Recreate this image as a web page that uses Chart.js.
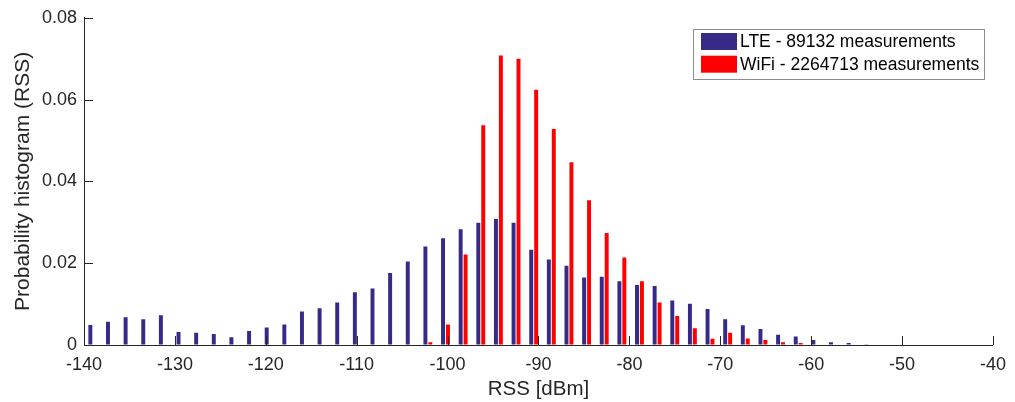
<!DOCTYPE html>
<html>
<head>
<meta charset="utf-8">
<script src="https://cdn.jsdelivr.net/npm/chart.js@4.4.1/dist/chart.umd.min.js"></script>
<style>
  html, body { margin: 0; padding: 0; background: #fff; }
  #wrap { width: 1015px; height: 402px; position: relative; }
</style>
</head>
<body>
<div id="wrap"><canvas id="rss_hist"></canvas></div>
<script>
// histogram bin centres (dBm)
var binCenters = [
  -139.03, -137.09, -135.15, -133.21, -131.27, -129.33, -127.39, -125.45, -123.51, -121.57,
  -119.63, -117.69, -115.75, -113.81, -111.87, -109.93, -107.99, -106.05, -104.11, -102.17,
  -100.23, -98.29, -96.35, -94.41, -92.47, -90.53, -88.59, -86.65, -84.71, -82.77,
  -80.83, -78.89, -76.95, -75.01, -73.07, -71.13, -69.19, -67.25, -65.31, -63.37,
  -61.43, -59.49, -57.55, -55.61, -53.67
];
var lteValues = [
  0.0049, 0.0057, 0.0068, 0.0063, 0.0073, 0.0032, 0.0030, 0.0027, 0.0019, 0.0034,
  0.0043, 0.0050, 0.0082, 0.0090, 0.0104, 0.0129, 0.0138, 0.0176, 0.0204, 0.0241,
  0.0261, 0.0283, 0.0299, 0.0308, 0.0299, 0.0233, 0.0209, 0.0194, 0.0165, 0.0167,
  0.0156, 0.0147, 0.0144, 0.0109, 0.0101, 0.0088, 0.0063, 0.0048, 0.0039, 0.0025,
  0.0021, 0.0012, 0.0007, 0.0005, 0.0002
];
var wifiValues = [
  0, 0, 0, 0, 0, 0, 0, 0, 0, 0,
  0, 0, 0, 0, 0, 0, 0, 0, 0, 0.0007,
  0.0050, 0.0221, 0.0537, 0.0708, 0.0700, 0.0624, 0.0528, 0.0447, 0.0354, 0.0274,
  0.0214, 0.0156, 0.0104, 0.0071, 0.0041, 0.0015, 0.0030, 0.0016, 0.0012, 0.0007,
  0.0005, 0, 0, 0, 0
];
var seriesLabels = ["LTE - 89132 measurements", "WiFi - 2264713 measurements"];
var xTicks = [-140, -130, -120, -110, -100, -90, -80, -70, -60, -50, -40];
var yTicks = [0, 0.02, 0.04, 0.06, 0.08];

var axisColor = '#262626';
var fontFamily = "'Liberation Sans', Arial, sans-serif";

function toPoints(vals) {
  return binCenters.map(function (x, i) { return { x: x, y: vals[i] }; });
}

// matlab style: ticks pointing inwards + boxed legend in the corner
var matlabLook = {
  id: 'matlabLook',
  afterDraw: function (chart) {
    var c = chart.ctx, a = chart.chartArea;
    var xs = chart.scales.x, ys = chart.scales.y;
    c.save();
    c.strokeStyle = axisColor;
    c.lineWidth = 1;
    c.beginPath();
    xTicks.forEach(function (t) {
      var px = Math.round(xs.getPixelForValue(t)) + 0.5;
      c.moveTo(px, a.bottom);
      c.lineTo(px, a.bottom - 9);
    });
    yTicks.forEach(function (t) {
      var py = Math.round(ys.getPixelForValue(t)) + 0.5;
      c.moveTo(a.left, py);
      c.lineTo(a.left + 9, py);
    });
    c.stroke();

    // legend
    var bx = 693.5, by = 29.5, bw = 291, bh = 50;
    c.fillStyle = '#fff';
    c.fillRect(bx, by, bw, bh);
    c.strokeStyle = '#8c8c8c';
    c.strokeRect(bx, by, bw, bh);
    c.font = '17.5px ' + fontFamily;
    c.textBaseline = 'middle';
    chart.data.datasets.forEach(function (ds, i) {
      var y = 33 + i * 22.7;
      c.fillStyle = ds.backgroundColor;
      c.fillRect(701, y, 36, 17);
      c.fillStyle = '#000';
      c.fillText(ds.label, 740, y + 9);
    });
    c.restore();
  }
};

var ctx = document.getElementById('rss_hist').getContext('2d');
var chart = new Chart(ctx, {
  type: 'bar',
  data: {
    datasets: [{
      label: seriesLabels[0],
      backgroundColor: '#352a87',
      borderWidth: 0,
      data: toPoints(lteValues)
    }, {
      label: seriesLabels[1],
      backgroundColor: '#ff0000',
      borderWidth: 0,
      data: toPoints(wifiValues)
    }]
  },
  options: {
    responsive: true,
    maintainAspectRatio: false,
    animation: false,
    categoryPercentage: 0.56,
    barPercentage: 0.8,
    layout: { padding: { top: 16, right: 19, left: 0, bottom: 0 } },
    plugins: {
      legend: { display: false },
      tooltip: { enabled: false }
    },
    scales: {
      x: {
        type: 'linear',
        offset: false,
        min: -140,
        max: -40,
        afterFit: function (s) { s.height = 57; },
        afterBuildTicks: function (s) { s.ticks = xTicks.map(function (v) { return { value: v }; }); },
        grid: { drawOnChartArea: false, drawTicks: false },
        border: { display: true, color: axisColor, width: 1 },
        ticks: { color: axisColor, padding: 9, maxRotation: 0, font: { family: fontFamily, size: 18 } },
        title: {
          display: true, text: 'RSS [dBm]', color: axisColor,
          padding: { top: 0, bottom: 0 },
          font: { family: fontFamily, size: 20.5 }
        }
      },
      y: {
        min: 0,
        max: 0.08,
        afterFit: function (s) { s.width = 84; },
        afterBuildTicks: function (s) { s.ticks = yTicks.map(function (v) { return { value: v }; }); },
        grid: { drawOnChartArea: false, drawTicks: false },
        border: { display: true, color: axisColor, width: 1 },
        ticks: { color: axisColor, padding: 7, font: { family: fontFamily, size: 18 } },
        title: {
          display: true, text: 'Probability histogram (RSS)', color: axisColor,
          padding: { top: 11, bottom: 0 },
          font: { family: fontFamily, size: 21 }
        }
      }
    }
  },
  plugins: [matlabLook]
});
</script>
</body>
</html>
